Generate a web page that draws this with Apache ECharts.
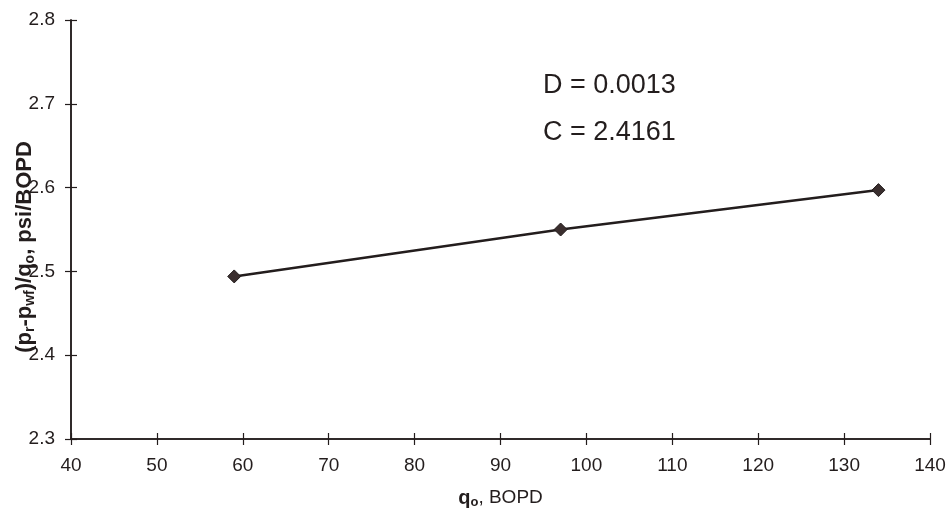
<!DOCTYPE html>
<html>
<head>
<meta charset="utf-8">
<script src="https://cdn.jsdelivr.net/npm/echarts@6/dist/echarts.min.js"></script>
<style>
  html, body { margin: 0; padding: 0; background: #fff; }
  #chart { width: 951px; height: 514px; }
</style>
</head>
<body>
<div id="chart"></div>
<script>
  // data
  var rates = [59, 97, 134]              // q_o, BOPD
  var ratios = [2.494, 2.550, 2.597]     // (pr - pwf)/qo, psi/BOPD
  var fitLines = ['D = 0.0013', 'C = 2.4161']

  var ink = '#231d1d'
  var font = '"Liberation Sans", Arial, sans-serif'

  var points = rates.map(function (q, i) { return [q, ratios[i]] })

  function axisBase (extra) {
    var a = {
      axisLine: { show: true, onZero: false, lineStyle: { color: ink, width: 1.5 } },
      splitLine: { show: false },
      axisTick: { show: true, length: 6, lineStyle: { color: ink, width: 1.2 } },
      axisLabel: { show: false }
    }
    for (var k in extra) a[k] = extra[k]
    return a
  }

  var chart = echarts.init(document.getElementById('chart'))

  chart.setOption({
    backgroundColor: '#fff',
    animation: false,
    grid: { left: 71, right: 21, top: 20, bottom: 74 },
    xAxis: [
      axisBase({
        type: 'value', min: 40, max: 140, interval: 10,
        axisLabel: { show: true, color: ink, fontFamily: font, fontSize: 19, margin: 17 },
        name: '{q|q}{sub|o}{r|, BOPD}',
        nameLocation: 'middle',
        nameGap: 48,
        nameTextStyle: {
          rich: {
            q: { fontFamily: font, fontSize: 20, fontWeight: 'bold', color: ink },
            sub: { fontFamily: font, fontSize: 13, fontWeight: 'bold', color: ink, padding: [9, 0, 0, 0] },
            r: { fontFamily: font, fontSize: 19, color: ink }
          }
        }
      }),
      axisBase({ type: 'value', min: 40, max: 140, interval: 10, position: 'bottom', axisTick: { show: true, inside: true, length: 6, lineStyle: { color: ink, width: 1.2 } } })
    ],
    yAxis: [
      axisBase({
        type: 'value', min: 2.3, max: 2.8, interval: 0.1,
        axisLabel: {
          show: true, color: ink, fontFamily: font, fontSize: 19, margin: 16,
          formatter: function (v) { return v.toFixed(1) }
        }
      }),
      axisBase({ type: 'value', min: 2.3, max: 2.8, interval: 0.1, position: 'left', axisTick: { show: true, inside: true, length: 6, lineStyle: { color: ink, width: 1.2 } } })
    ],
    graphic: [
      {
        type: 'text', x: 25, y: 247, rotation: Math.PI / 2,
        style: {
          text: '{b|(p}{s|r}{b|-p}{s|wf}{b|)/q}{s|o}{b|, psi/BOPD}',
          align: 'center', verticalAlign: 'middle',
          rich: {
            b: { fontFamily: font, fontSize: 22, fontWeight: 'bold', fill: ink },
            s: { fontFamily: font, fontSize: 14, fontWeight: 'bold', fill: ink, padding: [10, 0, 0, 0] }
          }
        }
      },
      {
        type: 'text', x: 543, y: 86,
        style: { text: fitLines[0], font: '27px ' + font, fill: ink, verticalAlign: 'middle' }
      },
      {
        type: 'text', x: 543, y: 133,
        style: { text: fitLines[1], font: '27px ' + font, fill: ink, verticalAlign: 'middle' }
      }
    ],
    series: [{
      type: 'line',
      data: points,
      symbol: 'diamond',
      symbolSize: 13,
      lineStyle: { color: ink, width: 2.5 },
      itemStyle: { color: '#3a2e2e', borderColor: ink, borderWidth: 1 }
    }]
  })
</script>
</body>
</html>
